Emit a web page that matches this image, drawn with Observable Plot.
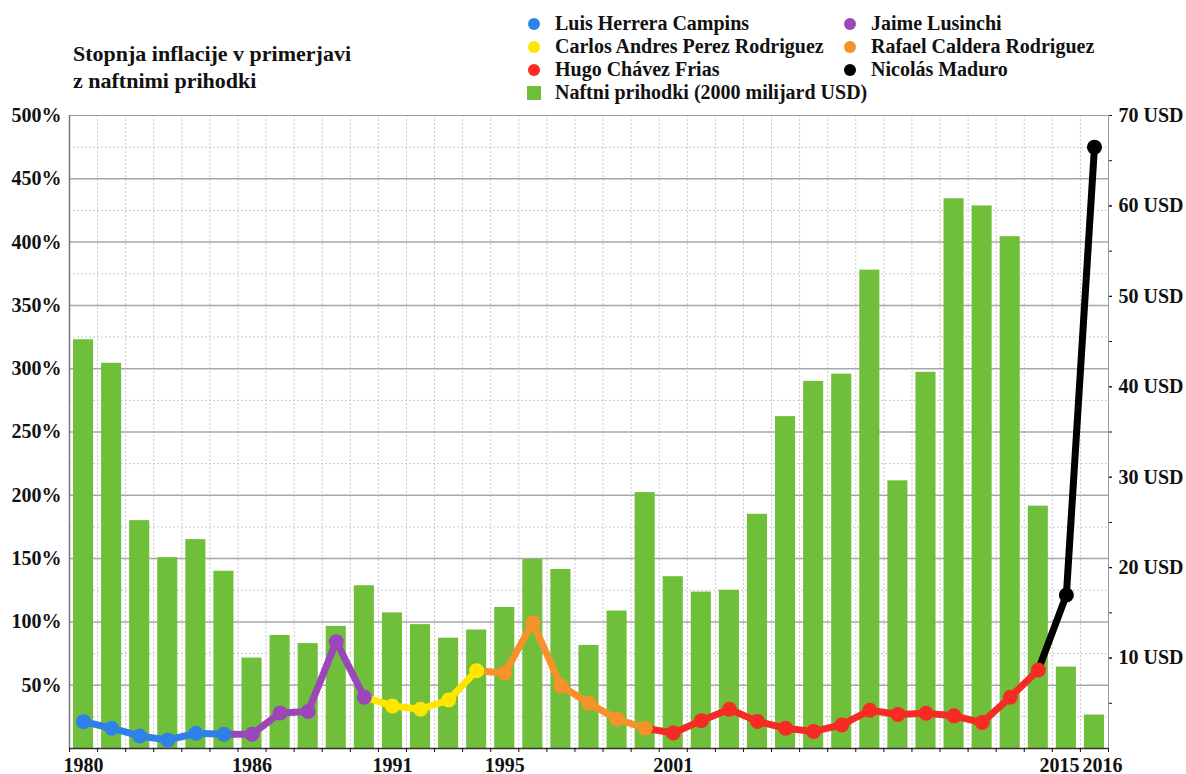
<!DOCTYPE html>
<html><head><meta charset="utf-8">
<script src="https://cdn.jsdelivr.net/npm/d3@7"></script>
<script src="https://cdn.jsdelivr.net/npm/@observablehq/plot@0.6"></script>
<style>
body{margin:0;background:#fff;}
#wrap{position:relative;width:1186px;height:774px;font-family:"Liberation Serif","Times New Roman",serif;font-weight:bold;color:#111;}
#chart{position:absolute;left:0;top:0;}
#title{position:absolute;left:73px;top:40px;font-size:22px;line-height:27px;z-index:2;}
#legend{position:absolute;left:527px;top:12px;display:grid;grid-template-columns:316px auto;grid-auto-rows:23px;font-size:20px;z-index:2;}
.item{display:flex;align-items:center;white-space:nowrap;}
.sym{width:12px;height:12px;border-radius:50%;margin-left:1px;margin-right:15px;flex:none;}
.sq{width:14px;height:14px;margin-right:14px;flex:none;}
</style>
</head>
<body>
<div id="wrap">
  <div id="chart"></div>
  <div id="title">Stopnja inflacije v primerjavi<br>z naftnimi prihodki</div>
  <div id="legend"></div>
</div>
<script>
const years = [1980,1981,1982,1983,1984,1985,1986,1987,1988,1989,1990,1991,1992,1993,1994,1995,1996,1997,1998,1999,2000,2001,2002,2003,2004,2005,2006,2007,2008,2009,2010,2011,2012,2013,2014,2015,2016];
const inflation = [21.2,16.0,9.9,6.7,12.0,11.2,11.3,28.0,29.3,84.4,40.5,33.6,31.0,38.3,61.5,59.6,99.4,49.6,35.7,23.2,16.0,12.2,22.0,31.0,21.4,16.0,13.5,18.6,30.2,26.8,27.9,25.8,20.5,40.5,62.0,121.2,475.0];
const oilRevenue = [45.2,42.6,25.2,21.1,23.1,19.6,10.0,12.5,11.6,13.5,18.0,15.0,13.7,12.2,13.1,15.6,20.9,19.8,11.4,15.2,28.3,19.0,17.3,17.5,25.9,36.7,40.6,41.4,52.9,29.6,41.6,60.8,60.0,56.6,26.8,9.0,3.7];
const presidents = ["Luis Herrera Campins","Jaime Lusinchi","Carlos Andres Perez Rodriguez","Rafael Caldera Rodriguez","Hugo Chávez Frias","Nicolás Maduro"];
const presidentColors = ["#2f80e8","#9b47b9","#ffe600","#f7922a","#f52b24","#000000"];
const termStart = [1980,1986,1991,1995,2001,2015];
const termEnd = [1985,1990,1994,2000,2014,2016];
const oilLabel = "Naftni prihodki (2000 milijard USD)";
const oilColor = "#70bf3a";
const yGridMajor = [50,100,150,200,250,300,350,400,450];
const yGridMinor = [25,75,125,175,225,275,325,375,425,475];
const yLabels = [50,100,150,200,250,300,350,400,450,500];
const usdLabels = [10,20,30,40,50,60,70];
const usdMinor = [5,15,25,35,45,55,65];
const xLabelYears = [1980,1986,1991,1995,2001,2015,2016];
const yMax = 500, usdMax = 70;

const usd = v => v * yMax / usdMax;
const rows = years.map((y, i) => ({year: y, infl: inflation[i], oil: oilRevenue[i]}));
const presOf = y => presidents[termStart.findIndex((s, k) => y >= s && y <= termEnd[k])];
const dotData = rows.map(r => ({...r, pres: presOf(r.year)}));
const lineData = presidents.flatMap((p, k) =>
  rows.filter(r => r.year >= (k > 0 ? termStart[k] - 1 : termStart[k]) && r.year <= termEnd[k])
      .map(r => ({...r, pres: p})));
const boundaries = years.concat(years[years.length - 1] + 1);

// the last two labels are adjacent years: set them either side of their shared boundary
const centeredLabels = xLabelYears.slice(0, -2);
const [penultLabel, lastLabel] = xLabelYears.slice(-2);

const chart = Plot.plot({
  width: 1186, height: 774,
  marginTop: 115, marginBottom: 26, marginLeft: 69, marginRight: 78,
  style: {fontFamily: '"Liberation Serif","Times New Roman",serif', fontSize: "20px", fontWeight: "bold", color: "#111", background: "white", overflow: "visible"},
  x: {type: "linear", domain: [boundaries[0], boundaries[boundaries.length - 1]], label: null},
  y: {domain: [0, yMax], label: null},
  color: {domain: presidents, range: presidentColors},
  marks: [
    Plot.gridY(yGridMinor, {stroke: "#c8c8c8", strokeOpacity: 1, strokeDasharray: "2,2"}),
    Plot.gridX(boundaries.slice(1, -1), {stroke: "#c8c8c8", strokeOpacity: 1, strokeDasharray: "2,2"}),
    Plot.gridY(yGridMajor, {stroke: "#a8a8a8", strokeOpacity: 1, strokeWidth: 1.5}),
    Plot.rectY(rows, {x1: "year", x2: d => d.year + 1, y: d => usd(d.oil), fill: oilColor, insetLeft: 4, insetRight: 4}),
    Plot.frame({stroke: "#9a9a9a"}),
    Plot.ruleX([boundaries[0]], {stroke: "#777", strokeWidth: 1.5}),
    Plot.ruleY([0], {stroke: "#333", strokeWidth: 1.5}),
    Plot.axisY(yLabels, {tickFormat: d => d + "%", tickSize: 0, tickPadding: 8}),
    Plot.axisY(usdMinor.concat(usdLabels).map(usd), {anchor: "right", tickFormat: () => "", tickSize: 3}),
    Plot.axisY(usdLabels.map(usd), {anchor: "right", tickFormat: d => `${Math.round(d * usdMax / yMax)} USD`, tickSize: 3, tickPadding: 7}),
    Plot.axisX(boundaries, {tickFormat: () => "", tickSize: 4}),
    Plot.axisX(centeredLabels.map(y => y + 0.5), {tickFormat: d => String(d - 0.5), tickSize: 0, tickPadding: 9}),
    Plot.axisX([lastLabel], {tickFormat: () => String(penultLabel), textAnchor: "end", dx: -1, tickSize: 0, tickPadding: 9}),
    Plot.axisX([lastLabel], {tickFormat: d => String(d), textAnchor: "start", dx: 2, tickSize: 0, tickPadding: 9}),
    Plot.line(lineData, {x: d => d.year + 0.5, y: "infl", z: "pres", stroke: "pres", strokeWidth: 7, strokeLinejoin: "round", strokeLinecap: "round"}),
    Plot.dot(dotData, {x: d => d.year + 0.5, y: "infl", fill: "pres", r: 7.5})
  ]
});
document.getElementById("chart").appendChild(chart);

const legend = document.getElementById("legend");
presidents.forEach((p, k) => {
  const it = document.createElement("div");
  it.className = "item";
  it.innerHTML = `<span class="sym" style="background:${presidentColors[k]}"></span><span>${p}</span>`;
  legend.appendChild(it);
});
const oilItem = document.createElement("div");
oilItem.className = "item";
oilItem.innerHTML = `<span class="sq" style="background:${oilColor}"></span><span>${oilLabel}</span>`;
legend.appendChild(oilItem);
</script>
</body></html>
